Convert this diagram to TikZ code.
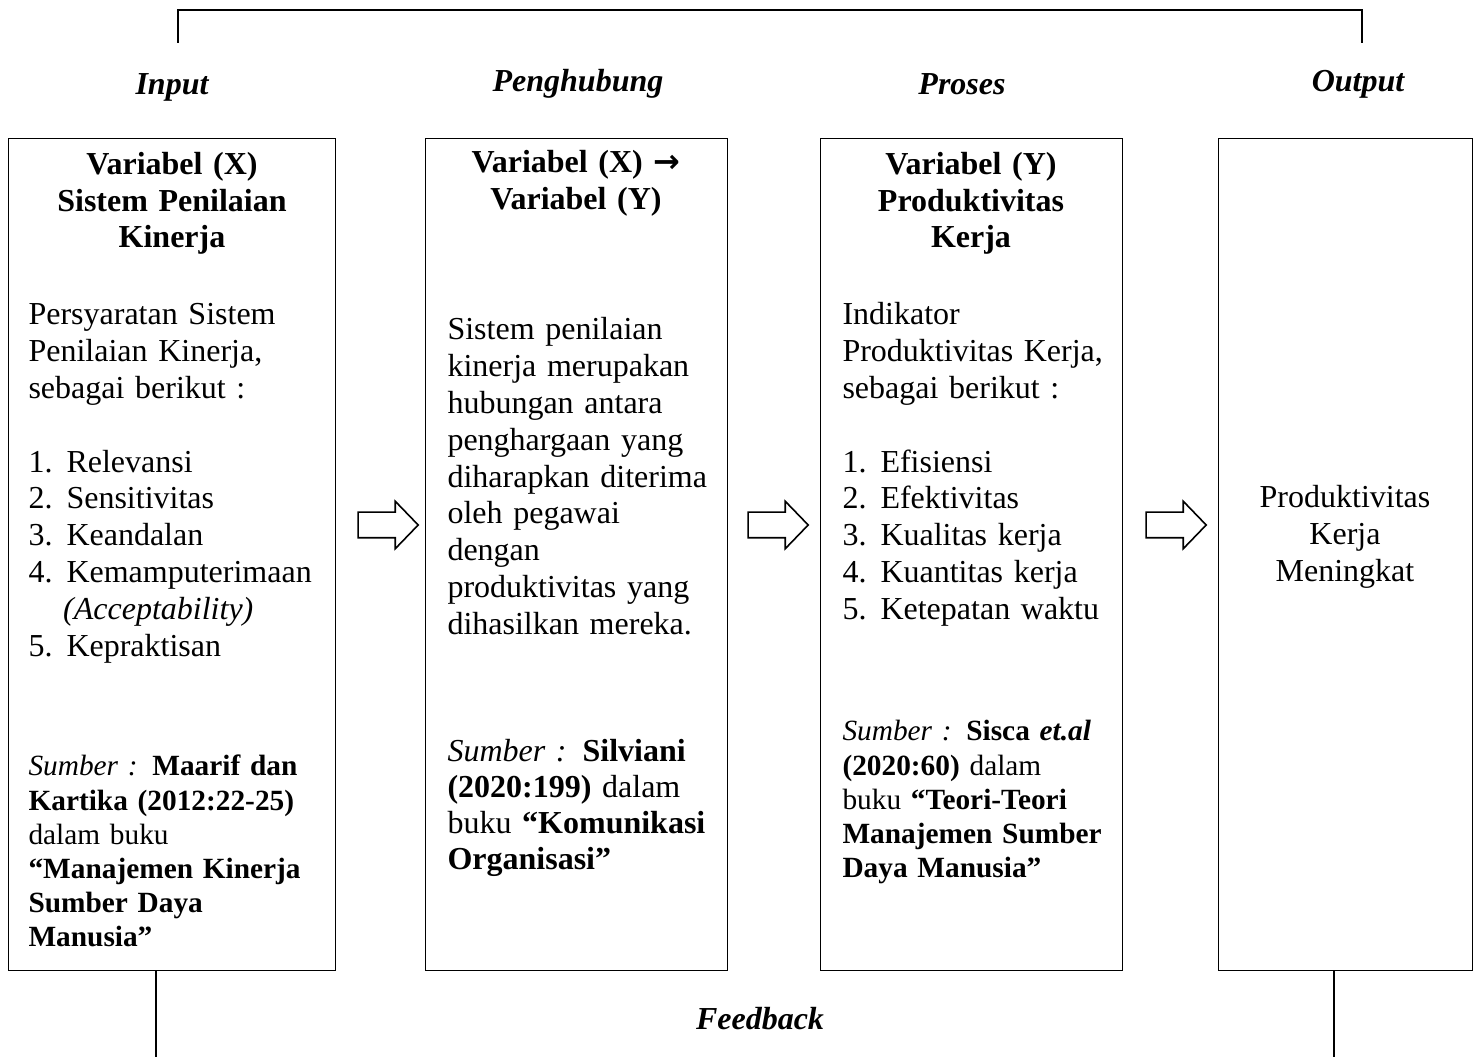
\documentclass[tikz,border=0pt]{standalone}
\usepackage{fontspec}
\setmainfont{Liberation Serif}
\newfontfamily\panahfont{DejaVu Sans}
\usetikzlibrary{shapes.arrows}

\begin{document}
\begin{tikzpicture}[x=0.375pt, y=-0.375pt,
    font=\fontsize{12}{13.8}\selectfont,
    kotak/.style={draw, line width=0.5pt, anchor=north west, minimum height=312pt, inner sep=0pt},
    judul/.style={font=\fontsize{12}{13.8}\selectfont\bfseries\itshape, anchor=base, inner sep=0pt},
    kepala/.style={font=\fontsize{12}{13.6}\selectfont\bfseries, align=center, anchor=base, inner sep=0pt, text width=#1},
    tengah/.style={align=center, anchor=base, inner sep=0pt, text width=#1},
    isi/.style={align=left, anchor=base west, inner sep=0pt, text width=#1},
    sumber/.style={isi=#1, font=\fontsize{11}{12.8}\selectfont},
    panah/.style={single arrow, draw, line width=0.6pt, minimum height=22.5pt, inner xsep=0pt, inner ysep=4.5pt,
                  single arrow head extend=4.1pt, single arrow tip angle=92},
    garis/.style={line width=0.9pt}]
  \useasboundingbox (0,0) rectangle (1480,1057);

  \node[kotak, minimum width=122.6pt] (box1) at (8,138) {};
  \node[kotak, minimum width=113.25pt] (box2) at (425,138) {};
  \node[kotak, minimum width=113.25pt] (box3) at (820,138) {};
  \node[kotak, minimum width=95.25pt] (box4) at (1218,138) {};

  \node[judul] (input) at (172,95) {Input};
  \node[judul] (penghubung) at (578,92) {Penghubung};
  \node[judul] (proses) at (962,95) {Proses};
  \node[judul] (output) at (1358,92) {Output};
  \node[judul] (feedback) at (760,1030) {Feedback};

  \node[kepala=115pt] (kep1) at (172,175) {Variabel (X)\\Sistem Penilaian\\Kinerja};
  \node[isi=118pt] (isi1) at (28,325) {Persyaratan Sistem\\Penilaian Kinerja,\\sebagai berikut :\\[13.8pt]
    \makebox[14.25pt][l]{1.}Relevansi\\
    \makebox[14.25pt][l]{2.}Sensitivitas\\
    \makebox[14.25pt][l]{3.}Keandalan\\
    \makebox[14.25pt][l]{4.}Kemamputerimaan\\
    \hspace*{13pt}\textit{(Acceptability)}\\
    \makebox[14.25pt][l]{5.}Kepraktisan};
  \node[sumber=118pt] (sum1) at (28,776) {\textit{Sumber :} \textbf{Maarif dan}\\
    \textbf{Kartika (2012:22-25)}\\dalam buku\\\textbf{“Manajemen Kinerja}\\
    \textbf{Sumber Daya}\\\textbf{Manusia”}};

  \node[kepala=110pt] (kep2) at (576,173) {Variabel (X) {\panahfont\bfseries →}\\Variabel (Y)};
  \node[isi=106pt] (isi2) at (447,340) {Sistem penilaian\\kinerja merupakan\\hubungan antara\\
    penghargaan yang\\diharapkan diterima\\oleh pegawai\\dengan\\produktivitas yang\\dihasilkan mereka.};
  \node[isi=106pt, font=\fontsize{12}{13.5}\selectfont] (sum2) at (447,762) {\textit{Sumber :} \textbf{Silviani}\\
    \textbf{(2020:199)} dalam\\buku \textbf{“Komunikasi}\\\textbf{Organisasi”}};

  \node[kepala=110pt] (kep3) at (971,175) {Variabel (Y)\\Produktivitas\\Kerja};
  \node[isi=106pt] (isi3) at (842,325) {Indikator\\Produktivitas Kerja,\\sebagai berikut :\\[13.8pt]
    \makebox[14.25pt][l]{1.}Efisiensi\\
    \makebox[14.25pt][l]{2.}Efektivitas\\
    \makebox[14.25pt][l]{3.}Kualitas kerja\\
    \makebox[14.25pt][l]{4.}Kuantitas kerja\\
    \makebox[14.25pt][l]{5.}Ketepatan waktu};
  \node[sumber=106pt] (sum3) at (842,741) {\textit{Sumber :} \textbf{Sisca \textit{et.al}}\\
    \textbf{(2020:60)} dalam\\buku \textbf{“Teori-Teori}\\\textbf{Manajemen Sumber}\\
    \textbf{Daya Manusia”}};

  \node[tengah=90pt] (isi4) at (1345,508) {Produktivitas\\Kerja\\Meningkat};

  \node[panah] (arr1) at (382,525) {};
  \node[panah] (arr2) at (772,525) {};
  \node[panah] (arr3) at (1170,525) {};

  \coordinate (atkiri) at (178,43);
  \coordinate (atkanan) at (1362,43);
  \draw[garis] (atkiri) -- ++(0,-33) -| (atkanan);

  \coordinate (fbkiri) at (156,1057);
  \coordinate (fbkanan) at (1334,1057);
  \draw[garis] (box1.south -| fbkiri) -- (fbkiri);
  \draw[garis] (box4.south -| fbkanan) -- (fbkanan);
\end{tikzpicture}
\end{document}
